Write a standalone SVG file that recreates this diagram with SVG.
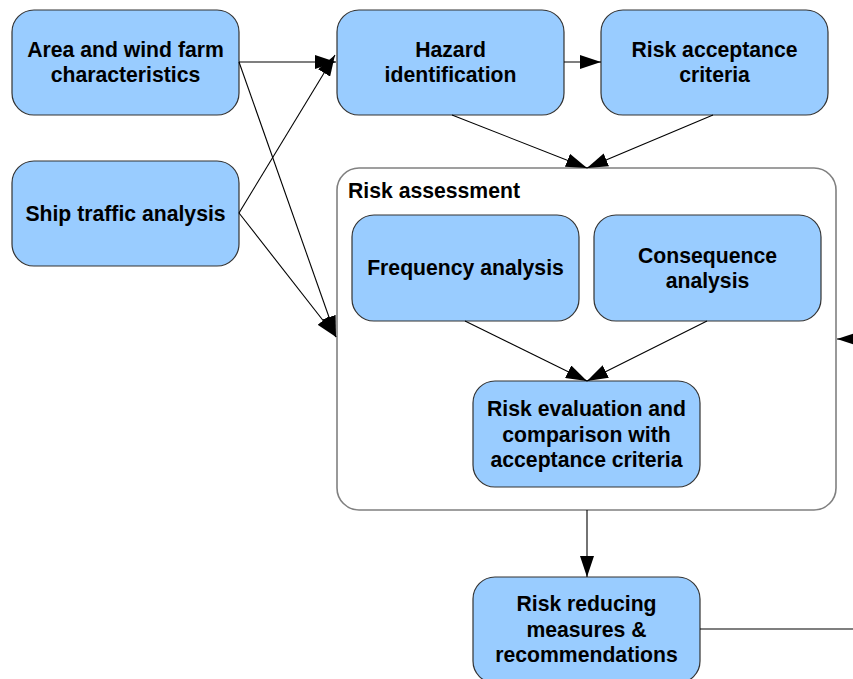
<svg xmlns="http://www.w3.org/2000/svg" width="853" height="679" viewBox="0 0 853 679">
<style>
.node{fill:#99ccff;stroke:#333333;stroke-width:1.2}
.cont{fill:#ffffff;stroke:#808080;stroke-width:1.6}
.t{font-family:"Liberation Sans",Arial,sans-serif;font-weight:bold;font-size:21.2px;fill:#000;text-anchor:middle}
.h{text-anchor:start}
.c{fill:none;stroke:#000;stroke-width:1.1;marker-end:url(#ah)}
</style>
<defs>
<marker id="ah" viewBox="0 0 21 14" refX="21" refY="7" markerWidth="21" markerHeight="14" markerUnits="userSpaceOnUse" orient="auto">
<path d="M0,0 L21,7 L0,14 z" fill="#000"/>
</marker>
</defs>
<rect width="853" height="679" fill="#ffffff"/>
<g id="risk-assessment">
<rect class="cont" x="337" y="168" width="499" height="342" rx="22" ry="22"/>
<text class="t h" x="348" y="198">Risk assessment</text>
</g>
<g id="area">
<rect class="node" x="12" y="10" width="227" height="105" rx="22" ry="22"/>
<text class="t" x="125.5" y="57">Area and wind farm</text>
<text class="t" x="125.5" y="82">characteristics</text>
</g>
<g id="ship">
<rect class="node" x="12" y="161" width="227" height="105" rx="22" ry="22"/>
<text class="t" x="125.5" y="221">Ship traffic analysis</text>
</g>
<g id="hazard">
<rect class="node" x="337" y="10" width="227" height="105" rx="22" ry="22"/>
<text class="t" x="450.5" y="57">Hazard</text>
<text class="t" x="450.5" y="82">identification</text>
</g>
<g id="acceptance">
<rect class="node" x="601" y="10" width="227" height="105" rx="22" ry="22"/>
<text class="t" x="714.5" y="57">Risk acceptance</text>
<text class="t" x="714.5" y="82">criteria</text>
</g>
<g id="frequency">
<rect class="node" x="352" y="215" width="227" height="106" rx="22" ry="22"/>
<text class="t" x="465.5" y="275">Frequency analysis</text>
</g>
<g id="consequence">
<rect class="node" x="594" y="215" width="227" height="106" rx="22" ry="22"/>
<text class="t" x="707.5" y="263">Consequence</text>
<text class="t" x="707.5" y="288">analysis</text>
</g>
<g id="evaluation">
<rect class="node" x="473" y="381" width="227" height="106" rx="22" ry="22"/>
<text class="t" x="586.5" y="416">Risk evaluation and</text>
<text class="t" x="586.5" y="442">comparison with</text>
<text class="t" x="586.5" y="467">acceptance criteria</text>
</g>
<g id="reducing">
<rect class="node" x="473" y="577" width="227" height="106" rx="22" ry="22"/>
<text class="t" x="586.5" y="611">Risk reducing</text>
<text class="t" x="586.5" y="637">measures &amp;</text>
<text class="t" x="586.5" y="662">recommendations</text>
</g>
<g id="connectors">
<path class="c" d="M239,62 L336,62"/>
<path class="c" d="M239,213 L335,55"/>
<path class="c" d="M239,62 L336,337"/>
<path class="c" d="M239,213 L336,337"/>
<path class="c" d="M564,62 L601,62"/>
<path class="c" d="M452,115 L587,168"/>
<path class="c" d="M713,115 L587,168"/>
<path class="c" d="M465,321 L587,381"/>
<path class="c" d="M707,321 L587,381"/>
<path class="c" d="M587,510 L587,577"/>
<path class="c" d="M700,629 L880,629 L880,339 L837,339"/>
</g>
</svg>
